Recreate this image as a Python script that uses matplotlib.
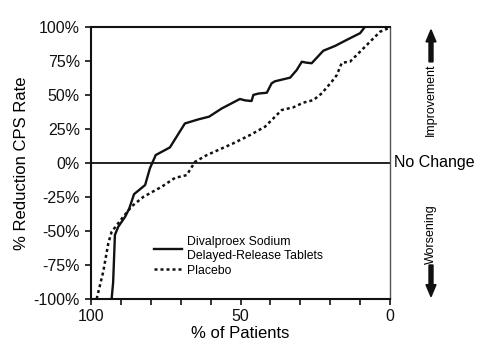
import matplotlib
matplotlib.use("Agg")
import matplotlib.pyplot as plt

plt.rcParams['font.family'] = ['Liberation Sans Narrow', 'Liberation Sans', 'DejaVu Sans']

# % of patients (x) vs % reduction in CPS rate (y)
div_x = [93.1, 92.6, 92.0, 90.9, 88.6, 87.2, 85.6, 81.9, 80.3, 78.6, 78.4, 73.6, 68.6,
         64.1, 60.5, 56.3, 50.2, 48.5, 46.3, 45.7, 44.0, 41.2, 39.6, 38.5, 33.4, 31.2,
         29.5, 27.9, 26.2, 22.3, 18.4, 14.0, 10.0, 8.4]
div_y = [-100, -88, -53, -47, -39.7, -33.5, -23, -16.3, -4, 4.5, 5.7, 11.4, 29,
         32, 34, 40, 47, 46, 45.5, 50, 51, 51.6, 58.5, 60, 62.7, 68.3,
         74.4, 73.7, 73.3, 82.5, 86, 91, 95.4, 100]

pla_x = [98.1, 95.9, 94.2, 93.1, 89.7, 86.4, 82.5, 76.4, 71.9, 68.0, 65.2, 61.3, 52.4,
         46.8, 41.8, 37.9, 36.2, 32.3, 29.0, 25.6, 22.8, 19.5, 17.8, 16.1, 13.4, 10.0,
         6.1, 3.3, 0.6]
pla_y = [-100, -80, -59, -50.7, -41, -32, -25, -17.6, -11, -9, 0.8, 5.7, 14.4,
         20.5, 26.6, 35.2, 38.9, 40.9, 44.3, 46.2, 51.2, 59.7, 64.6, 73.7, 74.4, 81.8,
         90.4, 96.5, 99]

yticks = [-100, -75, -50, -25, 0, 25, 50, 75, 100]
xticks = [100, 90, 80, 70, 60, 50, 40, 30, 20, 10, 0]
xlabels = ['100', '', '', '', '', '50', '', '', '', '', '0']

fig = plt.figure(figsize=(5, 3.64), dpi=100)
ax = fig.add_axes([0.182, 0.179, 0.598, 0.747])

ax.plot(div_x, div_y, color='#111111', lw=1.7, label='Divalproex Sodium\nDelayed-Release Tablets')
ax.plot(pla_x, pla_y, color='#111111', lw=1.8, linestyle=(0, (1.2, 1.2)), label='Placebo')
ax.axhline(0, color='#111111', lw=1.3)

ax.set_xlim(100, 0)
ax.set_ylim(-100, 100)
ax.set_yticks(yticks)
ax.set_yticklabels([f'{v}%' for v in yticks])
ax.set_xticks(xticks)
ax.set_xticklabels(xlabels)
ax.tick_params(axis='both', direction='out', length=4.5, width=1.2, labelsize=11.5, colors='#111111')
ax.tick_params(axis='x', pad=3)

for s in ['left', 'bottom', 'top']:
    ax.spines[s].set_linewidth(1.5)
    ax.spines[s].set_color('#111111')
ax.spines['right'].set_linewidth(1.0)
ax.spines['right'].set_color('#555555')

ax.set_xlabel('% of Patients', fontsize=12, labelpad=1)
ax.set_ylabel('% Reduction CPS Rate', fontsize=12, labelpad=3)

leg = ax.legend(loc='upper left', bbox_to_anchor=(0.195, 0.25), frameon=False, fontsize=8.8,
                handlelength=2.3, handletextpad=0.4, labelspacing=0.25, borderaxespad=0)

fig.text(0.789, 0.553, 'No Change', fontsize=11.5, va='center', ha='left')
fig.text(0.862, 0.726, 'Improvement', fontsize=9, rotation=90, ha='center', va='center')
fig.text(0.862, 0.358, 'Worsening', fontsize=9, rotation=90, ha='center', va='center')
fig.patches.append(matplotlib.patches.FancyArrow(0.862, 0.83, 0, 0.088, width=0.008,
                   head_width=0.02, head_length=0.033, color='#111111',
                   transform=fig.transFigure, figure=fig, length_includes_head=True))
fig.patches.append(matplotlib.patches.FancyArrow(0.862, 0.272, 0, -0.087, width=0.008,
                   head_width=0.02, head_length=0.033, color='#111111',
                   transform=fig.transFigure, figure=fig, length_includes_head=True))

fig.savefig('out.png', dpi=100)
